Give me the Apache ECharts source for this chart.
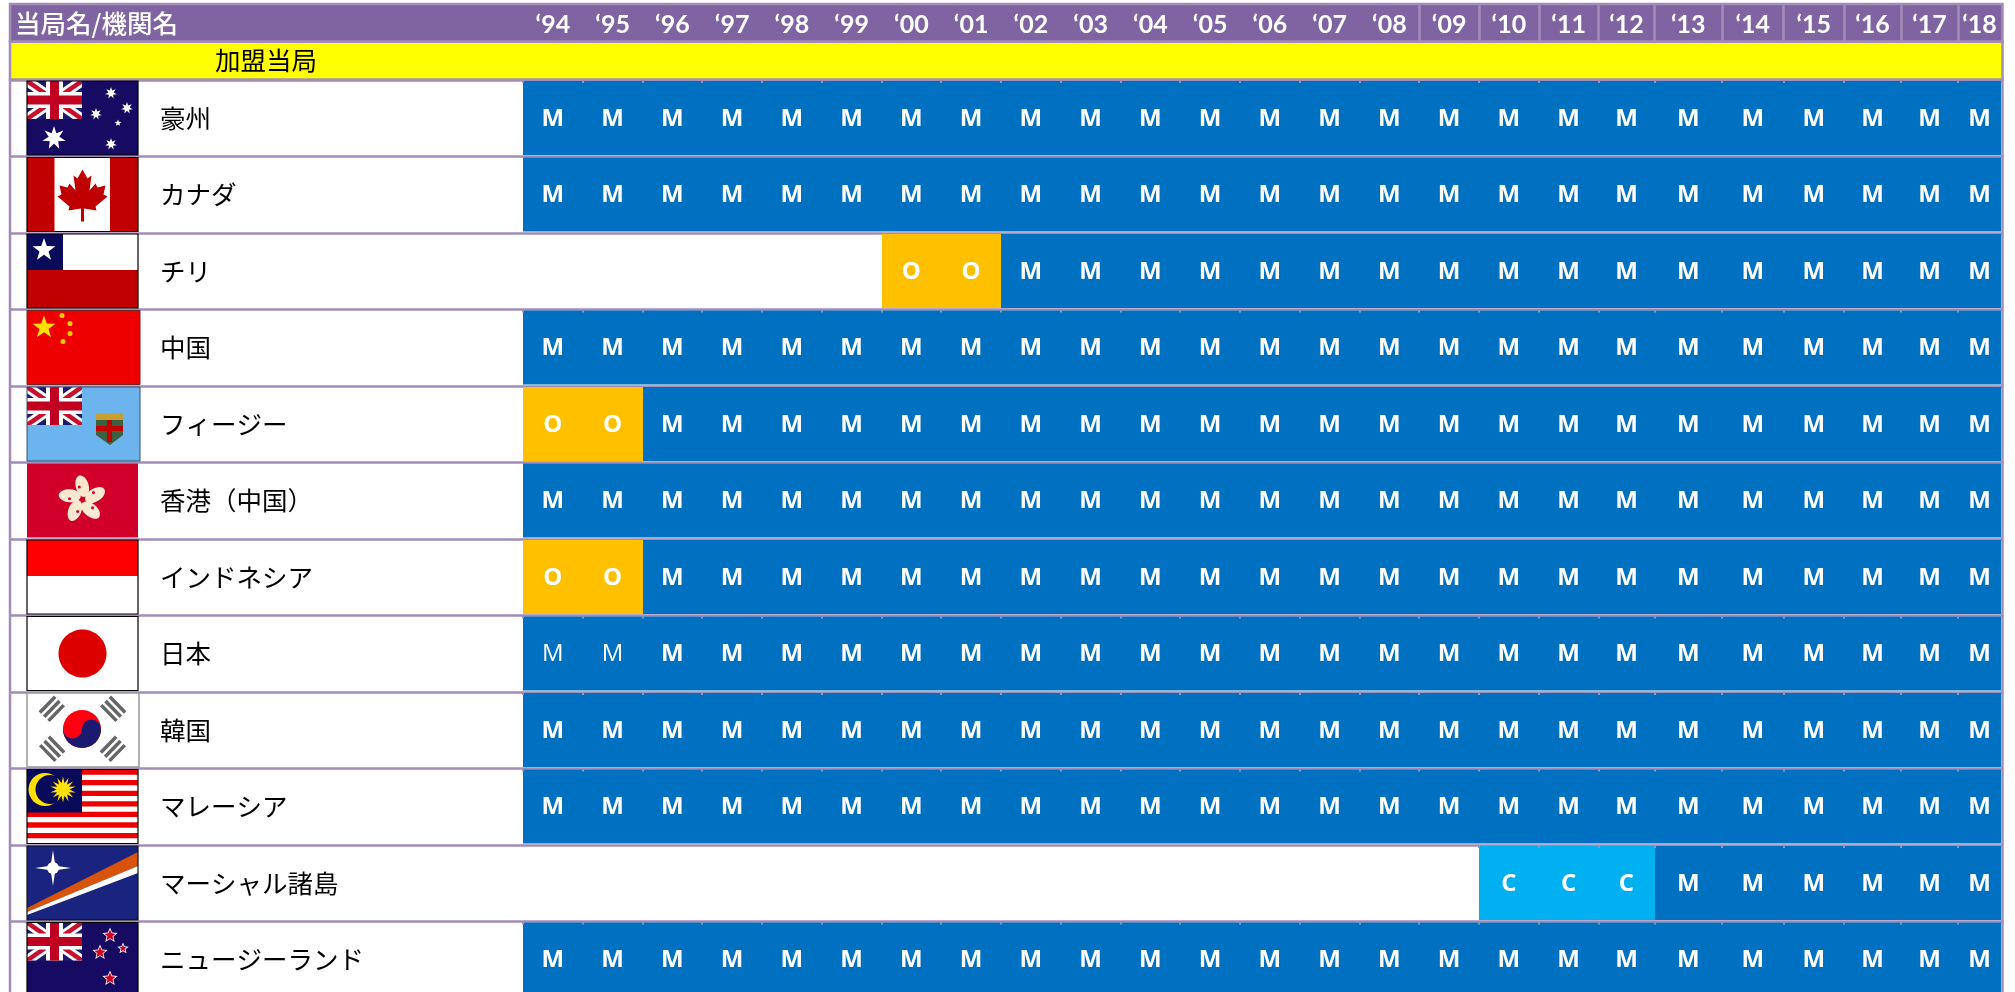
<!DOCTYPE html>
<html>
<head>
<meta charset="utf-8">
<style>
html, body { margin: 0; padding: 0; background: #fff; height: 992px; overflow: hidden; }
#chart { width: 2015px; height: 1000px; }
</style>
<script src="https://cdn.jsdelivr.net/npm/echarts@6/dist/echarts.min.js"></script>
</head>
<body>
<div id="chart"></div>
<script>
// ---- data ----
const years = ['‘94','‘95','‘96','‘97','‘98','‘99','‘00','‘01','‘02','‘03','‘04','‘05','‘06','‘07','‘08','‘09','‘10','‘11','‘12','‘13','‘14','‘15','‘16','‘17','‘18'];
const headerTitle = ['当局名/機関名'];
const groupTitle = ['加盟当局'];
const authorities = ['豪州','カナダ','チリ','中国','フィージー','香港（中国）','インドネシア','日本','韓国','マレーシア','マーシャル諸島','ニュージーランド'];
const flags = ['au','ca','cl','cn','fj','hk','id','jp','kr','my','mh','nz'];
// one letter per year: M member, O observer, C candidate, m member in thin type, - nothing
const statusAustralia  = 'MMMMMMMMMMMMMMMMMMMMMMMMM';
const statusCanada     = 'MMMMMMMMMMMMMMMMMMMMMMMMM';
const statusChile      = '------OOMMMMMMMMMMMMMMMMM';
const statusChina      = 'MMMMMMMMMMMMMMMMMMMMMMMMM';
const statusFiji       = 'OOMMMMMMMMMMMMMMMMMMMMMMM';
const statusHongKong   = 'MMMMMMMMMMMMMMMMMMMMMMMMM';
const statusIndonesia  = 'OOMMMMMMMMMMMMMMMMMMMMMMM';
const statusJapan      = 'mmMMMMMMMMMMMMMMMMMMMMMMM';
const statusKorea      = 'MMMMMMMMMMMMMMMMMMMMMMMMM';
const statusMalaysia   = 'MMMMMMMMMMMMMMMMMMMMMMMMM';
const statusMarshall   = '----------------CCCMMMMMM';
const statusNewZealand = 'MMMMMMMMMMMMMMMMMMMMMMMMM';
const statusRows = [statusAustralia, statusCanada, statusChile, statusChina, statusFiji, statusHongKong,
    statusIndonesia, statusJapan, statusKorea, statusMalaysia, statusMarshall, statusNewZealand];

// ---- layout ----
const GRID_LEFT = 10;
const GRID_WIDTH = 1992.5;
const NAME_COLUMN = 513;
const columnWidths = [59.75,59.75,59.75,59.75,59.75,59.75,59.75,59.75,59.75,59.75,59.75,59.75,59.75,59.75,59.75,59.75,59.75,59.75,56,67.5,61.5,60.5,57,57,43];
const columnEdges = [NAME_COLUMN];
columnWidths.forEach((w, i) => columnEdges.push(columnEdges[i] + w));
const columnCenters = columnWidths.map((w, i) => columnEdges[i] + w / 2);
// edges that have a full divider in the header band
const headerDividers = columnEdges.slice(15, 25);
// rows whose top line has small nubs at the column edges
const nubRows = [0, 3, 7, 8, 9, 10, 11];

const PURPLE = '#8064A2';
const LINE = '#A28DB8';
const statusColors = { M: '#0070C0', m: '#0070C0', O: '#FFC000', C: '#00B0F0' };

const cells = [];
statusRows.forEach((row, r) => {
    row.split('').forEach((s, c) => {
        if (s != '-') cells.push({ value: [columnCenters[c], r], status: s, col: c, row: r });
    });
});

function renderCell(params, api) {
    const cell = cells[params.dataIndex];
    const cy = api.coord([0, cell.row])[1];
    const left = Math.round(api.coord([columnEdges[cell.col], cell.row])[0]);
    const right = Math.round(api.coord([columnEdges[cell.col + 1], cell.row])[0]);
    const cx = api.coord([columnCenters[cell.col], cell.row])[0];
    const h = api.size([0, 1])[1] - 2.5;
    const children = [
        { type: 'rect', shape: { x: left, y: cy - h / 2, width: right - left, height: h }, style: { fill: statusColors[cell.status] } },
        { type: 'text', style: {
            x: cx, y: cy + 1,
            text: cell.status.toUpperCase(),
            fill: '#fff',
            font: (cell.status == 'm' ? '400 ' : '700 ') + '24px "Open Sans"',
            align: 'center', verticalAlign: 'middle'
        } }
    ];
    if (nubRows.includes(cell.row)) {
        children.push({ type: 'rect', shape: { x: left - 1, y: cy - h / 2, width: 2, height: 2 }, style: { fill: LINE } });
    }
    return { type: 'group', children: children };
}

// ---- flags, drawn in a 111x74 box ----
function starPoints(cx, cy, r, n, inner) {
    const pts = [];
    for (let i = 0; i < n * 2; i++) {
        const rad = i % 2 ? r * inner : r;
        const a = -Math.PI / 2 + i * Math.PI / n;
        pts.push([cx + rad * Math.cos(a), cy + rad * Math.sin(a)]);
    }
    return pts;
}
const rect = (x, y, w, h, fill) => ({ type: 'rect', shape: { x: x, y: y, width: w, height: h }, style: { fill: fill } });
const poly = (points, fill) => ({ type: 'polygon', shape: { points: points }, style: { fill: fill } });
const disc = (cx, cy, r, fill) => ({ type: 'circle', shape: { cx: cx, cy: cy, r: r }, style: { fill: fill } });
const star = (cx, cy, r, n, fill, inner) => poly(starPoints(cx, cy, r, n, inner || 0.45), fill);
const frame = (color) => ({ type: 'rect', shape: { x: 0, y: 0, width: 111, height: 74 }, style: { fill: 'none', stroke: color || '#000', lineWidth: 1.2 } });

function unionJack() {
    const w = 55, h = 38, d = 9, r = 4;
    return [
        rect(0, 0, w, h, '#1A1A70'),
        poly([[0, 0], [d, 0], [w, h - d * h / w], [w, h], [w - d, h], [0, d * h / w]], '#fff'),
        poly([[w, 0], [w, d * h / w], [d, h], [0, h], [0, h - d * h / w], [w - d, 0]], '#fff'),
        poly([[0, 0], [r, 0], [w, h - r * h / w], [w, h], [w - r, h], [0, r * h / w]], '#C8102E'),
        poly([[w, 0], [w, r * h / w], [r, h], [0, h], [0, h - r * h / w], [w - r, 0]], '#C8102E'),
        rect(19, 0, 17, h, '#fff'),
        rect(0, 11, w, 16, '#fff'),
        rect(23, 0, 9, h, '#C00020'),
        rect(0, 14.5, w, 9, '#C00020')
    ];
}

const leafRight = [[0,12],[5,21],[9,18],[7,33],[13,26],[15,30],[23,28],[21,37],[25,39],[13,49],[14,53],[1.5,51],[1.5,64]];

function drawFlag(code) {
    switch (code) {
    case 'au':
        return [rect(0, 0, 111, 74, '#170A62'), ...unionJack(),
            star(84, 12, 6, 7, '#fff'), star(100, 27, 6, 7, '#fff'), star(69, 33, 6, 7, '#fff'),
            star(91, 42, 3.5, 5, '#fff'), star(84, 63, 6, 7, '#fff'), star(27, 57, 12, 7, '#fff'), frame()];
    case 'ca': {
        const leaf = leafRight.map(p => [55.5 + p[0], p[1]]).concat(leafRight.slice().reverse().map(p => [55.5 - p[0], p[1]]));
        return [rect(0, 0, 111, 74, '#fff'), rect(0, 0, 27.5, 74, '#C00000'), rect(83, 0, 28, 74, '#C00000'), poly(leaf, '#C00000'), frame()];
    }
    case 'cl':
        return [rect(0, 0, 111, 74, '#fff'), rect(0, 36, 111, 38, '#C00000'), rect(0, 0, 36, 36, '#0A0A5A'), star(17, 16, 12, 5, '#fff', 0.4), frame()];
    case 'cn':
        return [rect(0, 0, 113, 74, '#EE0000'),
            star(17, 17, 12, 5, '#FFE000', 0.4), disc(35, 5, 2.5, '#FFD000'), disc(43, 13, 2.5, '#FFD000'), disc(43, 23, 2.5, '#FFD000'), disc(36, 31, 2.5, '#FFD000'),
            { type: 'rect', shape: { x: 0, y: 0, width: 113, height: 74 }, style: { fill: 'none', stroke: '#7A2020', lineWidth: 1 } }];
    case 'fj':
        return [rect(0, 0, 113, 74, '#6CB4EE'), ...unionJack(),
            poly([[69, 26], [96, 26], [96, 48], [83, 58], [69, 48]], '#3C6040'),
            rect(69, 26, 27, 7, '#C8A030'), rect(80, 33, 5, 22, '#C00000'), rect(69, 39, 27, 5, '#C00000'),
            { type: 'rect', shape: { x: 0, y: 0, width: 113, height: 74 }, style: { fill: 'none', stroke: '#35506A', lineWidth: 1 } }];
    case 'hk': {
        const petals = [0, 1, 2, 3, 4].map(i => ({
            type: 'ellipse', x: 55.5, y: 36, rotation: i * 2 * Math.PI / 5 + 0.25,
            shape: { cx: 3, cy: -13, rx: 6.5, ry: 11 }, style: { fill: '#FBE8D0' }
        }));
        const marks = [0, 1, 2, 3, 4].map(i => {
            const a = -i * 2 * Math.PI / 5 - 0.25 - Math.PI / 2;
            return disc(55.5 + 13 * Math.cos(a), 36 + 13 * Math.sin(a), 1.5, '#D0002A');
        });
        return [rect(0, 0, 111, 74, '#D0002A'), ...petals, ...marks];
    }
    case 'id':
        return [rect(0, 0, 111, 74, '#fff'), rect(0, 0, 111, 36, '#FF0000'), frame()];
    case 'jp':
        return [rect(0, 0, 111, 74, '#fff'), { type: 'ellipse', shape: { cx: 55.5, cy: 37, rx: 24, ry: 24 }, style: { fill: '#DD0000' } }, frame()];
    case 'kr': {
        const bars = [[25, 16, 0.8], [86, 16, -0.8], [25, 56, -0.8], [86, 56, 0.8]].map(b => ({
            type: 'group', x: b[0], y: b[1], rotation: b[2],
            children: [rect(-11, -8, 22, 3.5, '#666'), rect(-11, -2, 22, 3.5, '#666'), rect(-11, 4, 22, 3.5, '#666')]
        }));
        return [rect(0, 0, 111, 74, '#fff'), ...bars,
            disc(55, 36, 19, '#FF0010'),
            { type: 'sector', shape: { cx: 55, cy: 36, r: 19, r0: 0, startAngle: 0, endAngle: Math.PI }, style: { fill: '#1A1A70' } },
            disc(45.5, 36, 9.5, '#FF0010'), disc(64.5, 36, 9.5, '#1A1A70'),
            { type: 'rect', shape: { x: 0, y: 0, width: 112, height: 74 }, style: { fill: 'none', stroke: '#999', lineWidth: 1.5 } }];
    }
    case 'my': {
        const stripes = [];
        for (let i = 0; i < 14; i += 2) stripes.push(rect(0, i * 74 / 14, 111, 74 / 14, '#EE0000'));
        return [rect(0, 0, 111, 74, '#fff'), ...stripes, rect(0, 0, 55, 43, '#0A0A5A'),
            disc(18, 20, 16.5, '#FFE000'), disc(23, 20, 14.5, '#0A0A5A'), star(36, 20, 13, 14, '#FFE000', 0.5), frame()];
    }
    case 'mh':
        return [rect(0, 0, 111, 74, '#1A237E'),
            poly([[0, 62], [111, 6], [111, 20], [0, 66]], '#D9530A'),
            poly([[0, 66], [111, 20], [111, 27], [0, 69]], '#fff'),
            star(26, 22, 18, 4, '#fff', 0.18), disc(26, 22, 6, '#fff'), frame('#111')];
    case 'nz': {
        const nzStar = (x, y, r) => [star(x, y, r + 2, 5, '#fff', 0.45), star(x, y, r, 5, '#CC0020', 0.45)];
        return [rect(0, 0, 111, 74, '#170A62'), ...unionJack(),
            ...nzStar(83, 13, 6), ...nzStar(73, 30, 6), ...nzStar(96, 26, 4), ...nzStar(83, 56, 6), frame()];
    }
    }
    return [];
}

function renderFlag(params, api) {
    const p = api.coord([17, params.dataIndex]);
    return { type: 'group', x: p[0], y: p[1] - 37, children: drawFlag(flags[params.dataIndex]) };
}

const option = {
    animation: false,
    backgroundColor: '#fff',
    textStyle: { fontFamily: '"Noto Sans CJK JP"' },
    grid: [
        { left: GRID_LEFT, width: GRID_WIDTH, top: 4, height: 37.75, show: true, backgroundColor: PURPLE, borderColor: LINE, borderWidth: 2.5 },
        { left: GRID_LEFT, width: GRID_WIDTH, top: 41.75, height: 38, show: true, backgroundColor: '#FFFF00', borderColor: LINE, borderWidth: 2.5 },
        { left: GRID_LEFT, width: GRID_WIDTH, top: 79.75, height: 918, show: true, backgroundColor: '#fff', borderColor: LINE, borderWidth: 2.5 }
    ],
    xAxis: [
        {
            gridIndex: 0, type: 'value', min: 0, max: GRID_WIDTH, position: 'bottom',
            axisLine: { show: false },
            axisTick: { show: true, inside: true, length: 37, customValues: headerDividers, lineStyle: { color: LINE, width: 2.5 } },
            splitLine: { show: false },
            axisLabel: {
                show: true, inside: true, margin: 4,
                customValues: columnCenters,
                formatter: (v) => years[columnCenters.indexOf(v)],
                color: '#fff', fontFamily: 'Lato', fontWeight: 700, fontSize: 25
            }
        },
        { gridIndex: 1, type: 'value', min: 0, max: GRID_WIDTH, show: false },
        { gridIndex: 2, type: 'value', min: 0, max: GRID_WIDTH, show: false }
    ],
    yAxis: [
        {
            gridIndex: 0, type: 'category', data: headerTitle,
            axisLine: { show: false }, axisTick: { show: false },
            axisLabel: { inside: true, margin: 5, color: '#fff', fontSize: 25.5, fontWeight: 500 }
        },
        {
            gridIndex: 1, type: 'category', data: groupTitle,
            axisLine: { show: false }, axisTick: { show: false },
            axisLabel: { inside: true, margin: 205, color: '#000', fontSize: 25.5 }
        },
        {
            gridIndex: 2, type: 'category', data: authorities, inverse: true,
            axisLine: { show: false }, axisTick: { show: false },
            axisLabel: { inside: true, margin: 150, color: '#000', fontSize: 25.5, interval: 0 },
            splitLine: { show: true, interval: 0, lineStyle: { color: LINE, width: 2.5 } }
        }
    ],
    series: [
        {
            type: 'custom', name: 'status', xAxisIndex: 2, yAxisIndex: 2,
            coordinateSystem: 'cartesian2d', clip: false,
            encode: { x: 0, y: 1 },
            data: cells.map(c => c.value),
            renderItem: renderCell
        },
        {
            type: 'custom', name: 'flags', xAxisIndex: 2, yAxisIndex: 2,
            coordinateSystem: 'cartesian2d', clip: false,
            encode: { x: 0, y: 1 },
            data: flags.map((f, i) => [17, i]),
            renderItem: renderFlag
        }
    ]
};

const chart = echarts.init(document.getElementById('chart'));
chart.setOption(option);
</script>
</body>
</html>
